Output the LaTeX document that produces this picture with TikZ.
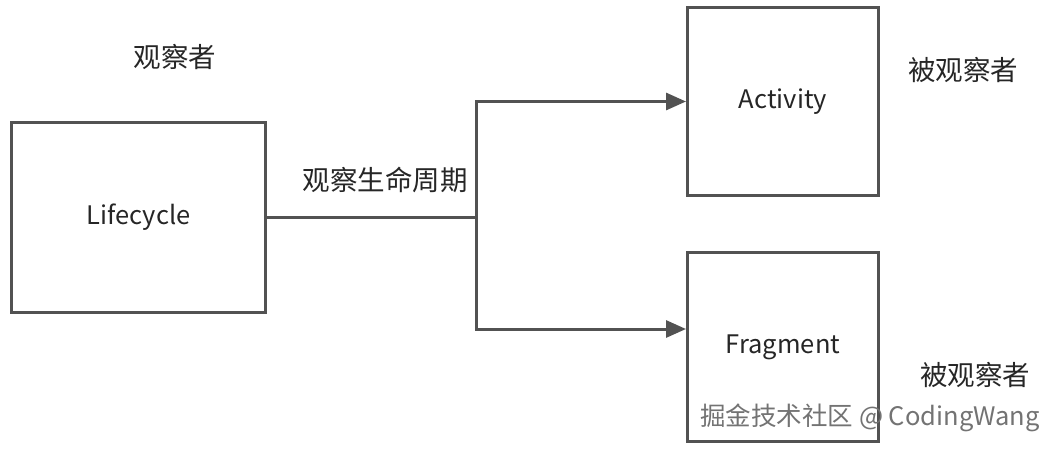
\documentclass[tikz,border=0pt]{standalone}
\usepackage{fontspec}
\newfontfamily\cjk{Noto Sans CJK SC}
\usetikzlibrary{arrows.meta}
\tikzset{
  box/.style={draw=black!68, line width=3pt, fill=white, font=\cjk\fontsize{25.5}{30}\selectfont, text=black!85},
  label/.style={font=\cjk\fontsize{27.5}{32}\selectfont, text=black!85},
  link/.style={draw=black!68, line width=3pt},
  tip/.style={-{Triangle[length=20pt,width=17pt]}}
}
\begin{document}
\begin{tikzpicture}[x=1pt,y=-1pt]
                \useasboundingbox (0,0) rectangle (1054,450);
                \node [box, minimum width=254pt, minimum height=190pt] (life) at (138.5,217.5) {\raisebox{-3pt}{Lifecycle}};
                \node [box, minimum width=191pt, minimum height=188pt] (act) at (783,101.5) {\raisebox{-3pt}{Activity}};
                \node [box, minimum width=191pt, minimum height=189pt] (frag) at (783,347) {\raisebox{-3pt}{Fragment}};
                \coordinate (split) at (476,217.5);
                \node [label] (watcher) at (175,57) {观察者};
                \node [label] (watched1) at (963,70) {被观察者};
                \node [label] (watched2) at (975,375) {被观察者};
                \node [label] (observe) at (385,180) {观察生命周期};
                \draw [link] (life.east) -- (split);
                \draw [link, tip] (split) |- (act.west);
                \draw [link, tip] (split) |- ([yshift=18pt]frag.west);
                \node [font=\cjk\fontsize{25.5}{30}\selectfont, text=black!55] (mark) at (870,418) {掘金技术社区 @ CodingWang};
            \end{tikzpicture}
\end{document}
